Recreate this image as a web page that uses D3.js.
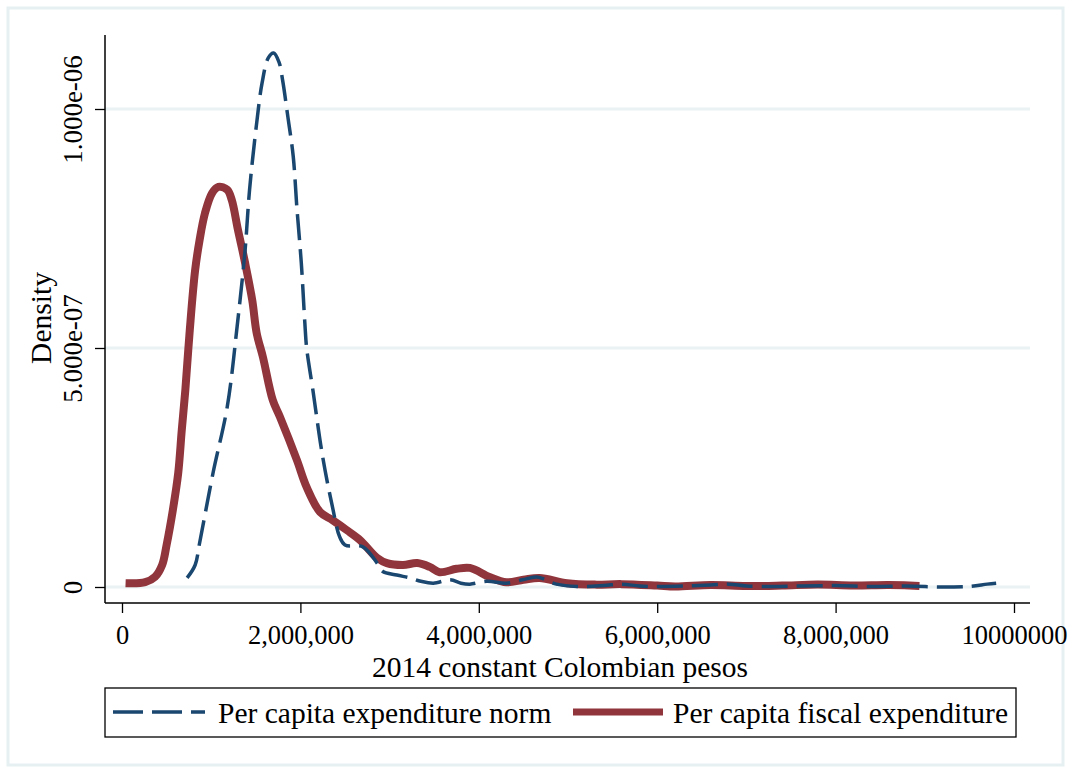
<!DOCTYPE html>
<html>
<head>
<meta charset="utf-8">
<script src="https://cdn.jsdelivr.net/npm/d3@7/dist/d3.min.js"></script>
<style>
  html, body { margin: 0; padding: 0; background: #ffffff; }
  svg { display: block; }
  text { font-family: "Liberation Serif", "Times New Roman", serif; fill: #000; }
</style>
</head>
<body>
<svg id="chart" width="1077" height="772"></svg>
<script>
// ---------- DATA (x in pesos, y = density) ----------
const seriesNames = ["Per capita expenditure norm", "Per capita fiscal expenditure"];

const normX = [0.73e6, 0.82e6, 0.87e6, 1.02e6, 1.18e6, 1.29e6, 1.38e6, 1.43e6, 1.51e6, 1.57e6,
  1.64e6, 1.70e6, 1.76e6, 1.80e6, 1.86e6, 1.92e6, 1.96e6, 2.01e6, 2.05e6, 2.07e6, 2.14e6,
  2.25e6, 2.36e6, 2.44e6, 2.50e6, 2.70e6, 2.86e6, 2.92e6, 3.08e6, 3.23e6, 3.35e6, 3.49e6,
  3.68e6, 3.80e6, 3.90e6, 4.09e6, 4.31e6, 4.49e6, 4.65e6, 4.87e6, 5.10e6, 5.40e6, 5.60e6,
  5.80e6, 6.00e6, 6.30e6, 6.60e6, 6.80e6, 7.00e6, 7.30e6, 7.60e6, 8.00e6, 8.40e6, 8.80e6,
  9.20e6, 9.50e6, 9.70e6, 9.80e6];
const normY = [0.019e-6, 0.046e-6, 0.092e-6, 0.238e-6, 0.377e-6, 0.544e-6, 0.705e-6, 0.831e-6, 0.971e-6, 1.054e-6,
  1.107e-6, 1.117e-6, 1.098e-6, 1.061e-6, 0.983e-6, 0.900e-6, 0.795e-6, 0.678e-6, 0.552e-6, 0.500e-6, 0.412e-6,
  0.272e-6, 0.167e-6, 0.105e-6, 0.088e-6, 0.084e-6, 0.050e-6, 0.033e-6, 0.025e-6, 0.019e-6, 0.012e-6, 0.008e-6,
  0.015e-6, 0.008e-6, 0.006e-6, 0.012e-6, 0.008e-6, 0.015e-6, 0.021e-6, 0.006e-6, 0.001e-6, 0.003e-6, 0.006e-6,
  0.002e-6, 0.001e-6, 0.002e-6, 0.004e-6, 0.006e-6, 0.002e-6, 0.001e-6, 0.002e-6, 0.003e-6, 0.001e-6, 0.002e-6,
  0.000e-6, 0.001e-6, 0.006e-6, 0.008e-6];

const fiscalX = [0.04e6, 0.26e6, 0.37e6, 0.45e6, 0.50e6, 0.57e6, 0.63e6, 0.67e6, 0.71e6, 0.76e6,
  0.82e6, 0.87e6, 0.93e6, 1.01e6, 1.08e6, 1.18e6, 1.23e6, 1.30e6, 1.38e6, 1.46e6, 1.51e6,
  1.58e6, 1.69e6, 1.77e6, 1.96e6, 2.07e6, 2.22e6, 2.36e6, 2.52e6, 2.67e6, 2.86e6, 2.97e6,
  3.15e6, 3.31e6, 3.45e6, 3.56e6, 3.75e6, 3.90e6, 4.12e6, 4.31e6, 4.50e6, 4.68e6, 4.99e6,
  5.30e6, 5.60e6, 6.00e6, 6.20e6, 6.60e6, 7.00e6, 7.40e6, 7.80e6, 8.20e6, 8.60e6, 8.94e6];
const fiscalY = [0.008e-6, 0.010e-6, 0.021e-6, 0.046e-6, 0.088e-6, 0.161e-6, 0.238e-6, 0.328e-6, 0.412e-6, 0.538e-6,
  0.663e-6, 0.726e-6, 0.782e-6, 0.824e-6, 0.837e-6, 0.831e-6, 0.810e-6, 0.747e-6, 0.678e-6, 0.600e-6, 0.531e-6,
  0.481e-6, 0.391e-6, 0.356e-6, 0.266e-6, 0.209e-6, 0.157e-6, 0.140e-6, 0.119e-6, 0.098e-6, 0.061e-6, 0.050e-6,
  0.046e-6, 0.050e-6, 0.042e-6, 0.031e-6, 0.038e-6, 0.040e-6, 0.021e-6, 0.010e-6, 0.015e-6, 0.019e-6, 0.008e-6,
  0.005e-6, 0.006e-6, 0.003e-6, 0.001e-6, 0.004e-6, 0.002e-6, 0.003e-6, 0.005e-6, 0.003e-6, 0.004e-6, 0.002e-6];

const xTickValues = [0, 2e6, 4e6, 6e6, 8e6, 10e6];
const xTickLabels = ["0", "2,000,000", "4,000,000", "6,000,000", "8,000,000", "10000000"];
const yTickValues = [0, 5e-7, 1e-6];
const yTickLabels = ["0", "5.000e-07", "1.000e-06"];

const xTitle = "2014 constant Colombian pesos";
const yTitle = "Density";

// ---------- STYLE / LAYOUT ----------
const colors = ["#1a476f", "#90353b"];
const svg = d3.select("#chart");
const plot = { left: 105, right: 1030, top: 35, bottom: 603 };

const x = d3.scaleLinear().domain([0, 1e7]).range([122, 1014]);
const y = d3.scaleLinear().domain([0, 1e-6]).range([587, 109]);

// outer frame
svg.append("rect").attr("x", 8).attr("y", 8).attr("width", 1055).attr("height", 757)
  .attr("fill", "none").attr("stroke", "#e6eff2").attr("stroke-width", 3);

// gridlines
svg.append("g").selectAll("line").data(yTickValues).join("line")
  .attr("x1", plot.left).attr("x2", plot.right)
  .attr("y1", d => y(d)).attr("y2", d => y(d))
  .attr("stroke", "#eaf2f3").attr("stroke-width", 3);

// y axis
const yAxis = d3.axisLeft(y).tickValues(yTickValues)
  .tickFormat((d, i) => yTickLabels[i]).tickSize(10).tickPadding(0);
const gy = svg.append("g").attr("transform", `translate(${plot.left},0)`).call(yAxis);
gy.select(".domain").remove();
gy.selectAll(".tick line").attr("stroke", "#000").attr("stroke-width", 1.3);
gy.selectAll(".tick text")
  .attr("x", 0).attr("dy", 0)
  .attr("transform", "translate(-23,0) rotate(-90)")
  .attr("text-anchor", "middle")
  .style("font-size", "27px")
  .style("font-family", "'Liberation Serif', serif");
svg.append("line").attr("x1", plot.left).attr("x2", plot.left)
  .attr("y1", plot.top).attr("y2", plot.bottom).attr("stroke", "#000").attr("stroke-width", 1.5);

// x axis
const xAxis = d3.axisBottom(x).tickValues(xTickValues)
  .tickFormat((d, i) => xTickLabels[i]).tickSize(10).tickPadding(12);
const gx = svg.append("g").attr("transform", `translate(0,${plot.bottom})`).call(xAxis);
gx.select(".domain").remove();
gx.selectAll(".tick line").attr("stroke", "#000").attr("stroke-width", 1.3);
gx.selectAll(".tick text")
  .attr("dy", "0.71em")
  .style("font-size", "26.5px")
  .style("font-family", "'Liberation Serif', serif");
svg.append("line").attr("x1", plot.left).attr("x2", plot.right)
  .attr("y1", plot.bottom).attr("y2", plot.bottom).attr("stroke", "#000").attr("stroke-width", 1.5);

// titles
svg.append("text").attr("x", 560).attr("y", 677).attr("text-anchor", "middle")
  .style("font-size", "29.5px").text(xTitle);
svg.append("text").attr("transform", "translate(51,318) rotate(-90)").attr("text-anchor", "middle")
  .style("font-size", "29.5px").text(yTitle);

// lines
const line = d3.line().x(d => x(d[0])).y(d => y(d[1])).curve(d3.curveCatmullRom.alpha(0.5));
const normData = normX.map((v, i) => [v, normY[i]]);
const fiscalData = fiscalX.map((v, i) => [v, fiscalY[i]]);

svg.append("path").datum(fiscalData).attr("d", line)
  .attr("fill", "none").attr("stroke", colors[1]).attr("stroke-width", 8)
  .attr("stroke-linejoin", "round");
svg.append("path").datum(normData).attr("d", line)
  .attr("fill", "none").attr("stroke", colors[0]).attr("stroke-width", 3.5)
  .attr("stroke-dasharray", "26,9");

// legend
const lg = svg.append("g");
lg.append("rect").attr("x", 105).attr("y", 688).attr("width", 911).attr("height", 49)
  .attr("fill", "#fff").attr("stroke", "#000").attr("stroke-width", 1.3);
lg.append("line").attr("x1", 113).attr("x2", 205).attr("y1", 712).attr("y2", 712)
  .attr("stroke", colors[0]).attr("stroke-width", 3.5).attr("stroke-dasharray", "30,9");
lg.append("text").attr("x", 218).attr("y", 723).style("font-size", "29.5px").text(seriesNames[0]);
lg.append("line").attr("x1", 573).attr("x2", 663).attr("y1", 712).attr("y2", 712)
  .attr("stroke", colors[1]).attr("stroke-width", 7);
lg.append("text").attr("x", 673).attr("y", 723).style("font-size", "29.5px").text(seriesNames[1]);
</script>
</body>
</html>
